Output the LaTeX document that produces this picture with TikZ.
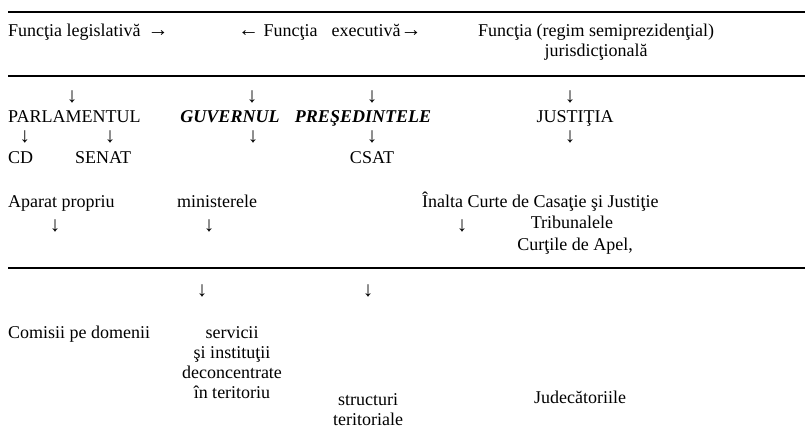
\documentclass[tikz,border=0pt]{standalone}
\usepackage{fontspec}
\setmainfont{Liberation Serif}
\usepackage{tikz}
\usetikzlibrary{positioning}
\newcommand{\bigarr}[1]{{\fontsize{21}{20}\selectfont #1}}
\tikzset{
  lbl/.style={inner sep=0pt, font=\fontsize{18}{20}\selectfont},
  head/.style={lbl, font=\fontsize{18}{20}\selectfont\bfseries\itshape},
  dn/.style={inner sep=0pt, font=\fontsize{21}{20}\selectfont},
  rule/.style={line width=2.5pt}
}

\begin{document}
\begin{tikzpicture}[x=1pt, y=-1pt]
      \useasboundingbox (0,0) rectangle (805,438);
      % separating rules
      \draw[rule] (8,12) -- (805,12);
      \draw[rule] (8,76) -- (805,76);
      \draw[rule] (8,268) -- (805,268);

      % the three functions
      \node[lbl, anchor=base west](leg) at (8,36.5) {Funcţia legislativă\hspace{7pt}\bigarr{→}};
      \node[lbl, anchor=base west](exe) at (238,36.5) {\bigarr{←} Funcţia\hspace{14pt}executivă\bigarr{→}};
      \node[lbl, anchor=base, align=center](jur) at (596,57) {Funcţia (regim semiprezidenţial)\\jurisdicţională}; % base = last line

      % powers
      \node[dn](a1) at (72,96.5) {↓};
      \node[dn](a2) at (252,96.5) {↓};
      \node[dn](a3) at (372,96.5) {↓};
      \node[dn](a4) at (570,96.5) {↓};
      \node[lbl, anchor=base west](parl) at (8,123) {PARLAMENTUL};
      \node[head, anchor=base](guv) at (230,123) {GUVERNUL};
      \node[head, anchor=base](pres) at (363,123) {PREŞEDINTELE};
      \node[lbl, anchor=base](just) at (575,123) {JUSTIŢIA};

      \node[dn](a5) at (25,137) {↓};
      \node[dn](a6) at (110,137) {↓};
      \node[dn](a7) at (253,137) {↓};
      \node[dn](a8) at (372,137) {↓};
      \node[dn](a9) at (570,137) {↓};
      \node[lbl, anchor=base west](cd) at (8,164) {CD};
      \node[lbl, anchor=base west](senat) at (75,164) {SENAT};
      \node[lbl, anchor=base](csat) at (372,164) {CSAT};

      % central level
      \node[lbl, anchor=base west](aparat) at (8,208) {Aparat propriu};
      \node[lbl, anchor=base west](min) at (177,208) {ministerele};
      \node[lbl, anchor=base west](iccj) at (422,208) {Înalta Curte de Casaţie şi Justiţie};
      \node[dn](a10) at (55,226) {↓};
      \node[dn](a11) at (209,226) {↓};
      \node[dn](a12) at (462,226) {↓};
      \node[lbl, anchor=base](trib) at (572,229) {Tribunalele};
      \node[lbl, anchor=base](ca) at (575,251) {Curţile de Apel,};

      % territorial level
      \node[dn](a13) at (202,290.5) {↓};
      \node[dn](a14) at (368,290.5) {↓};
      \node[lbl, anchor=base west](comisii) at (8,338) {Comisii pe domenii};
      \node[lbl, anchor=base, align=center](serv) at (232,398) {servicii\\şi instituţii\\deconcentrate\\în teritoriu};
      \node[lbl, anchor=base, align=center](struct) at (368,425) {structuri\\teritoriale};
      \node[lbl, anchor=base](jud) at (580,403) {Judecătoriile};
\end{tikzpicture}
\end{document}
